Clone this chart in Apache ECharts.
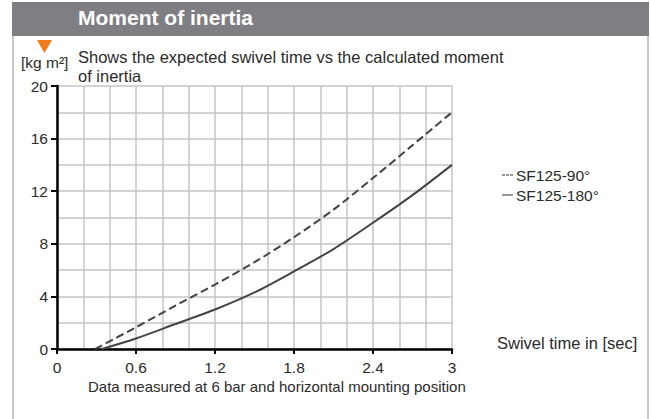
<!DOCTYPE html>
<html>
<head>
<meta charset="utf-8">
<script src="https://cdn.jsdelivr.net/npm/echarts@6/dist/echarts.min.js"></script>
<style>
  html, body { margin: 0; padding: 0; background: #fff; }
  #chart { width: 651px; height: 419px; }
</style>
</head>
<body>
<div id="chart"></div>
<script>
// swivel time [sec] vs moment of inertia [kg m²]
const time90 = [0.29, 0.6, 0.9, 1.2, 1.5, 1.8, 2.1, 2.4, 2.7, 3.0];
const inertia90 = [0, 1.65, 3.3, 4.9, 6.6, 8.5, 10.6, 13.0, 15.5, 18.0];
const time180 = [0.34, 0.6, 0.9, 1.2, 1.5, 1.8, 2.1, 2.4, 2.7, 3.0];
const inertia180 = [0, 0.8, 1.9, 3.0, 4.3, 5.9, 7.6, 9.6, 11.7, 14.0];
const seriesNames = ['SF125-90°', 'SF125-180°'];

const font = '"Liberation Sans", Arial, sans-serif';
const txt = '#2b2b2b';
const gridGray = '#c4c4c4';

var chart = echarts.init(document.getElementById('chart'), null, {renderer: 'svg'});

function pairs(xs, ys) {
  return xs.map((x, i) => [x, ys[i]]);
}

chart.setOption({
  animation: false,
  textStyle: {fontFamily: font},
  grid: {left: 57, right: 199, top: 86, bottom: 70, containLabel: false},
  legend: {
    orient: 'vertical',
    left: 497,
    top: 162,
    itemWidth: 11,
    itemHeight: 2,
    itemGap: 4,
    textStyle: {fontSize: 15.5, color: txt, fontFamily: font, padding: [0, 0, 0, -2]},
    data: [
      {name: seriesNames[0], icon: 'path://M0,0h3v1h-3z M4,0h3v1h-3z M8,0h3v1h-3z', itemStyle: {color: '#333'}},
      {name: seriesNames[1], icon: 'path://M0,0h11v1h-11z', itemStyle: {color: '#333'}}
    ]
  },
  xAxis: {
    type: 'value',
    min: 0,
    max: 3,
    interval: 0.6,
    name: 'Swivel time in [sec]',
    nameLocation: 'end',
    nameGap: 45,
    nameTextStyle: {fontSize: 16.5, color: txt, verticalAlign: 'bottom', align: 'left', padding: [0, 0, -2, 0]},
    axisLine: {show: true, onZero: false, lineStyle: {color: '#000', width: 2.5}},
    axisTick: {show: true, length: 5, lineStyle: {color: '#000', width: 2}},
    axisLabel: {fontSize: 15.5, color: txt, margin: 10, formatter: v => String(v)},
    splitLine: {show: true, lineStyle: {color: gridGray, width: 1.5}},
    minorTick: {show: false, splitNumber: 3},
    minorSplitLine: {show: true, lineStyle: {color: gridGray, width: 1.5}}
  },
  yAxis: {
    type: 'value',
    min: 0,
    max: 20,
    interval: 4,
    axisLine: {show: true, onZero: false, lineStyle: {color: '#000', width: 2.5}},
    axisTick: {show: true, length: 6, lineStyle: {color: '#000', width: 2}},
    axisLabel: {fontSize: 15.5, color: txt, margin: 9},
    splitLine: {show: true, lineStyle: {color: gridGray, width: 1.5}},
    minorTick: {show: false, splitNumber: 2},
    minorSplitLine: {show: true, lineStyle: {color: gridGray, width: 1.5}}
  },
  graphic: [
    // header band
    {type: 'rect', shape: {x: 12, y: 2, width: 637, height: 34}, style: {fill: '#7f7f83'}},
    {type: 'text', left: 78, top: 7, style: {text: 'Moment of inertia', fill: '#fff', font: 'bold 21px ' + font}},
    // side borders
    {type: 'rect', shape: {x: 12, y: 36, width: 2, height: 383}, style: {fill: '#c8c8c8'}},
    {type: 'rect', shape: {x: 647, y: 36, width: 2, height: 383}, style: {fill: '#c8c8c8'}},
    // orange marker
    {type: 'polygon', shape: {points: [[37, 40], [52, 40], [44.5, 53]]}, style: {fill: '#f47a20'}},
    {type: 'text', left: 21, top: 54, style: {text: '[kg m²]', fill: txt, font: '15.5px ' + font}},
    {type: 'text', left: 78, top: 47, style: {text: 'Shows the expected swivel time vs the calculated moment\nof inertia', fill: txt, font: '16.5px ' + font, lineHeight: 19}},
    {type: 'text', left: 88, top: 379, style: {text: 'Data measured at 6 bar and horizontal mounting position', fill: txt, font: '15px ' + font}}
  ],
  series: [
    {
      name: seriesNames[0],
      type: 'line',
      smooth: 0.3,
      symbol: 'none',
      lineStyle: {color: '#444', width: 2, type: [8, 4]},
      data: pairs(time90, inertia90),
      z: 5
    },
    {
      name: seriesNames[1],
      type: 'line',
      smooth: 0.3,
      symbol: 'none',
      lineStyle: {color: '#444', width: 2},
      data: pairs(time180, inertia180),
      z: 5
    }
  ]
});
</script>
</body>
</html>
